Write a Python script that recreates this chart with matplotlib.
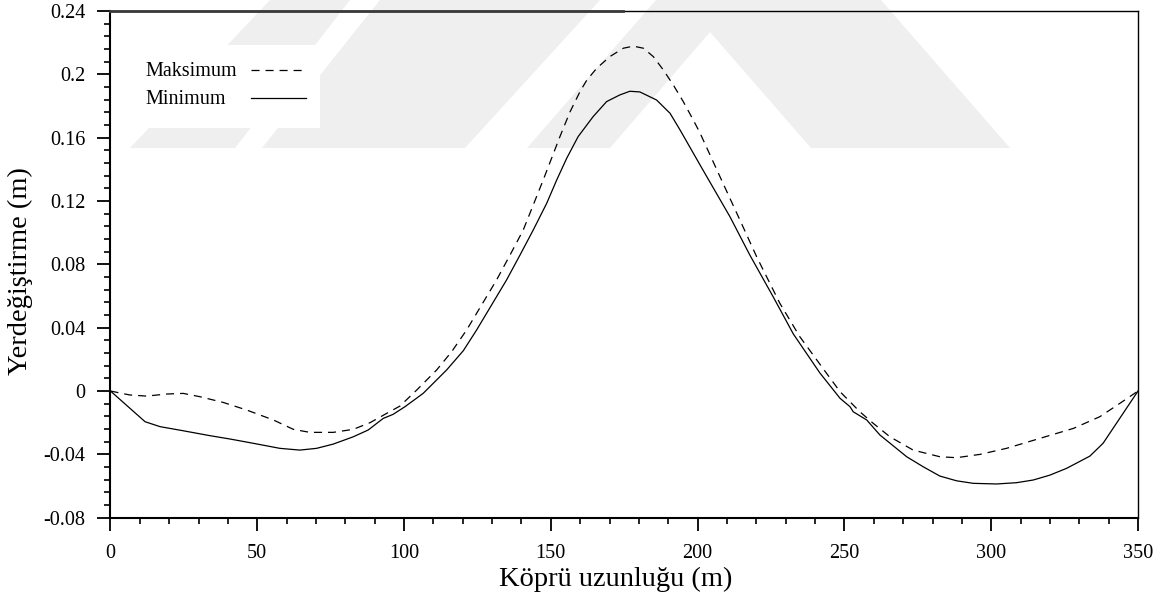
import matplotlib
matplotlib.use("Agg")
import matplotlib.pyplot as plt
from matplotlib.ticker import MultipleLocator, FuncFormatter
from matplotlib.patches import Rectangle, Polygon
from matplotlib.lines import Line2D

# Deck displacement envelopes along the bridge
x_min = [0, 11.8, 16.9, 24.8, 33.9, 40.7, 48.6, 57.7, 64.5, 70.2, 75.9, 82.7,
         87.8, 92.9, 96.3, 100.3, 106.5, 114.5, 120.2, 124.7, 129.8, 134.9,
         139.5, 144, 148.6, 152, 155.4, 159.3, 164.4, 169, 173.5, 176.9, 180.3,
         186, 190.6, 194, 201.8, 211, 217.8, 225.7, 232.6, 241.6, 248.5, 251.9,
         253, 257.6, 262.1, 271.2, 276.8, 282.5, 288.2, 293.9, 301.8, 308.6,
         314.3, 320, 325.7, 333.6, 338.1, 350]
y_min = [0, -0.0194, -0.0225, -0.0251, -0.0282, -0.0303, -0.033, -0.0362,
         -0.0373, -0.0362, -0.0335, -0.0289, -0.0246, -0.0173, -0.0147, -0.0099,
         -0.0015, 0.0133, 0.0255, 0.0385, 0.0543, 0.0701, 0.0859, 0.1017,
         0.1186, 0.1333, 0.147, 0.1607, 0.1733, 0.1828, 0.187, 0.1893, 0.1889,
         0.1838, 0.1754, 0.1649, 0.1396, 0.1101, 0.0858, 0.0596, 0.036, 0.0115,
         -0.0046, -0.0099, -0.0131, -0.0183, -0.0278, -0.0415, -0.0478, -0.0537,
         -0.0567, -0.0583, -0.0587, -0.0579, -0.0562, -0.0531, -0.0488, -0.0411,
         -0.033, 0]

x_max = [0, 6.6, 12.3, 19.1, 24.8, 30.5, 38.4, 46.4, 55.5, 62.3, 67.9, 75.9,
         82.7, 88.4, 94.1, 98.6, 104.3, 111.1, 116.2, 121.3, 126.4, 131.5,
         136.1, 140.6, 144, 147.4, 153.1, 156.5, 159.9, 162.2, 165.6, 170.1,
         174.7, 178.1, 181.5, 184.9, 188.3, 191.7, 195.1, 198.5, 200.8, 207.6,
         214.4, 220.1, 228, 234.8, 243.9, 248.5, 255.2, 259.8, 265.5, 273.4,
         282.5, 288.2, 296.2, 305.2, 316.6, 328, 337, 343.8, 350]
y_max = [0, -0.0025, -0.0032, -0.0019, -0.0015, -0.0036, -0.0072, -0.012,
         -0.0183, -0.0242, -0.0261, -0.0261, -0.0242, -0.02, -0.0141, -0.0095,
         0.0006, 0.0133, 0.0248, 0.0385, 0.0543, 0.0701, 0.0859, 0.1017,
         0.1175, 0.1333, 0.1607, 0.1762, 0.189, 0.1962, 0.2038, 0.2112, 0.2165,
         0.2178, 0.2165, 0.2112, 0.2028, 0.1933, 0.1828, 0.1712, 0.163, 0.1354,
         0.108, 0.0848, 0.0554, 0.0343, 0.0112, -0.0004, -0.013, -0.0204,
         -0.0289, -0.0373, -0.0415, -0.0421, -0.04, -0.0362, -0.0299, -0.0236,
         -0.0162, -0.0078, 0]

series_labels = ["Maksimum", "Minimum"]
x_label = "Köprü uzunluğu (m)"
y_label = "Yerdeğiştirme (m)"

plt.rcParams["font.family"] = ["Liberation Serif", "DejaVu Serif"]
plt.rcParams["lines.scale_dashes"] = False

W, H = 1169, 601
fig = plt.figure(figsize=(11.69, 6.01), dpi=100)
ax = fig.add_axes([0.0945, 0.1386, 0.879, 0.8431])
ax.patch.set_visible(False)

# faint background emblem behind the plot (figure pixel outlines)
emblem = [
    [(270, 0), (350, 0), (235, 148), (130, 148)],
    [(380, 0), (600, 0), (465, 148), (262, 148)],
    [(527, 148), (656, 0), (881, 0), (1010, 148), (811, 148), (710, 32),
     (610, 148)],
]
for shape in emblem:
    fig.add_artist(Polygon([(px / W, 1 - py / H) for px, py in shape],
                           closed=True, transform=fig.transFigure,
                           facecolor="#efefef", edgecolor="none", zorder=-5))

dash = (5.8, 4.3)
ax.plot(x_max, y_max, color="black", lw=0.9, dashes=dash, zorder=3)
ax.plot(x_min, y_min, color="black", lw=0.9, zorder=3)

ax.set_xlim(0, 350)
ax.set_ylim(-0.08, 0.24)
ax.xaxis.set_major_locator(MultipleLocator(50))
ax.xaxis.set_minor_locator(MultipleLocator(10))
ax.yaxis.set_major_locator(MultipleLocator(0.04))
ax.yaxis.set_minor_locator(MultipleLocator(0.008))


def yfmt(v, pos):
    if abs(v) < 1e-9:
        return "0"
    return f"{v:.2f}".rstrip("0")


ax.yaxis.set_major_formatter(FuncFormatter(yfmt))
ax.xaxis.set_major_formatter(FuncFormatter(lambda v, p: f"{v:.0f}"))

ax.tick_params(axis="both", which="major", direction="out", length=9.5,
               width=1.3, labelsize=14.6, colors="black")
ax.tick_params(axis="both", which="minor", direction="out", length=4,
               width=1.2)
ax.tick_params(axis="y", which="major", pad=8.5)
ax.tick_params(axis="x", which="major", pad=9.5)

for side in ("left", "bottom"):
    ax.spines[side].set_linewidth(1.5)
for side in ("top", "right"):
    ax.spines[side].set_linewidth(1.0)

# heavier stretch along the left half of the top border
ax.add_line(Line2D([0, 0.499], [1, 1], transform=ax.transAxes, color="#3a3a3a",
                   lw=2.0, clip_on=False, zorder=5))

ax.set_xlabel(x_label, fontsize=20.5)
ax.set_ylabel(y_label, fontsize=20.5)
ax.xaxis.set_label_coords(0.492, -0.097)
ax.yaxis.set_label_coords(-0.0754, 0.487)

# legend block: text on the left, line sample on the right
ax.add_patch(Rectangle((0.019, 0.769), 0.185, 0.164, transform=ax.transAxes,
                       facecolor="white", edgecolor="none", zorder=2))
ax.text(0.0345, 0.8717, series_labels[0], transform=ax.transAxes,
        fontsize=14.5, va="baseline", ha="left", zorder=4)
ax.text(0.0345, 0.8165, series_labels[1], transform=ax.transAxes,
        fontsize=14.5, va="baseline", ha="left", zorder=4)
ax.add_line(Line2D([0.1367, 0.1903], [0.8836, 0.8836], transform=ax.transAxes,
                   color="black", lw=0.9, dashes=dash, zorder=4))
ax.add_line(Line2D([0.1367, 0.1903], [0.828, 0.828], transform=ax.transAxes,
                   color="black", lw=0.9, zorder=4))

fig.savefig("out.png", dpi=100)
